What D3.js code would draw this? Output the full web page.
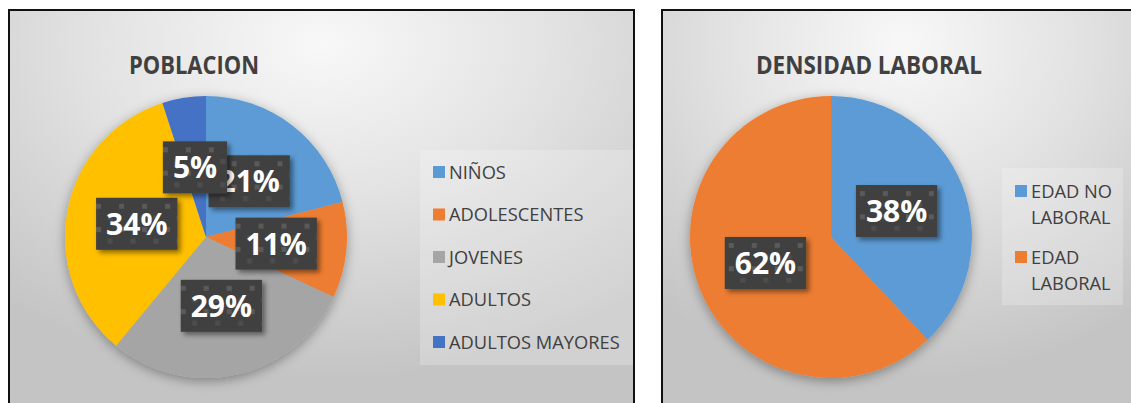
<!DOCTYPE html>
<html>
<head>
<meta charset="utf-8">
<script src="https://cdn.jsdelivr.net/npm/d3@7/dist/d3.min.js"></script>
<style>
  body { margin: 0; background: #fff; }
  svg { display: block; }
</style>
</head>
<body>
<div id="chart"></div>
<script>
// Datos de los dos gráficos
const poblacionTitulo = "POBLACION";
const poblacionCategorias = ["NIÑOS", "ADOLESCENTES", "JOVENES", "ADULTOS", "ADULTOS MAYORES"];
const poblacionValores = [21, 11, 29, 34, 5];
const poblacionColores = ["#5B9BD5", "#ED7D31", "#A5A5A5", "#FFC000", "#4472C4"];

const densidadTitulo = "DENSIDAD LABORAL";
const densidadCategorias = ["EDAD NO LABORAL", "EDAD LABORAL"];
const densidadValores = [38, 62];
const densidadColores = ["#5B9BD5", "#ED7D31"];

(() => {
    const width = 1131, height = 403;

    const svg = d3.select("#chart").append("svg")
        .attr("width", width)
        .attr("height", height);

    const defs = svg.append("defs");

    // Fondo degradado tipo Excel
    const grad = defs.append("radialGradient")
        .attr("id", "fondo")
        .attr("cx", 0.5).attr("cy", 0.08).attr("r", 0.8)
        .attr("fx", 0.5).attr("fy", 0.08);
    grad.append("stop").attr("offset", "0%").attr("stop-color", "#f8f8f8");
    grad.append("stop").attr("offset", "45%").attr("stop-color", "#e3e3e3");
    grad.append("stop").attr("offset", "100%").attr("stop-color", "#c4c4c4");

    // Sombra del pastel
    defs.append("filter").attr("id", "sombraPie")
        .attr("x", "-30%").attr("y", "-30%").attr("width", "160%").attr("height", "160%")
        .append("feDropShadow")
        .attr("dx", 0).attr("dy", 3).attr("stdDeviation", 6)
        .attr("flood-color", "#000").attr("flood-opacity", 0.35);

    // Sombra de las etiquetas
    defs.append("filter").attr("id", "sombraEtiqueta")
        .attr("x", "-20%").attr("y", "-20%").attr("width", "150%").attr("height", "150%")
        .append("feDropShadow")
        .attr("dx", 3).attr("dy", 3).attr("stdDeviation", 2.5)
        .attr("flood-color", "#000").attr("flood-opacity", 0.45);

    let patronId = 0;

    function dibujarPanel(cfg) {
        const g = svg.append("g");

        // Marco del gráfico
        g.append("rect")
            .attr("x", cfg.x).attr("y", cfg.y)
            .attr("width", cfg.w).attr("height", cfg.h)
            .attr("fill", "url(#fondo)")
            .attr("stroke", "#111")
            .attr("stroke-width", 2);

        // Título
        g.append("text")
            .attr("x", cfg.tituloX)
            .attr("y", 74)
            .attr("textLength", cfg.tituloW)
            .attr("lengthAdjust", "spacingAndGlyphs")
            .style("font-family", "'Open Sans', sans-serif")
            .style("font-weight", "bold")
            .style("font-size", "25px")
            .style("fill", "#404040")
            .text(cfg.titulo);

        const pie = d3.pie().sort(null).value(d => d);
        const arcos = pie(cfg.valores);
        const arc = d3.arc().innerRadius(0).outerRadius(cfg.r);
        const arcEtiqueta = d3.arc().innerRadius(cfg.r * 0.5).outerRadius(cfg.r * 0.5);
        const color = d3.scaleOrdinal().domain(cfg.categorias).range(cfg.colores);

        const pieG = g.append("g")
            .attr("transform", `translate(${cfg.cx},${cfg.cy})`);

        pieG.append("g")
            .attr("filter", "url(#sombraPie)")
            .selectAll("path")
            .data(arcos)
            .enter()
            .append("path")
            .attr("d", arc)
            .attr("fill", (d, i) => color(cfg.categorias[i]));

        // Etiquetas de porcentaje
        arcos.forEach(d => {
            const [lx, ly] = arcEtiqueta.centroid(d);
            const lg = pieG.append("g");
            const txt = lg.append("text")
                .attr("x", lx)
                .attr("y", ly + 11)
                .attr("text-anchor", "middle")
                .style("font-family", "'Open Sans', sans-serif")
                .style("font-weight", "bold")
                .style("font-size", "30px")
                .style("fill", "#fff")
                .text(`${d.data}%`);
            const tw = txt.node().getComputedTextLength();
            const bw = tw + 20, bh = 52;
            const bx = lx - bw / 2, by = ly - bh / 2;

            // patrón de cuadritos alineado con la caja
            const id = `cuadros${patronId++}`;
            const pat = defs.append("pattern")
                .attr("id", id)
                .attr("patternUnits", "userSpaceOnUse")
                .attr("x", cfg.cx + bx + 1).attr("y", cfg.cy + by + 2)
                .attr("width", 23).attr("height", 23.3);
            pat.append("rect").attr("width", 23).attr("height", 23.3).attr("fill", "#404040");
            pat.append("rect").attr("x", 0).attr("y", 0).attr("width", 5).attr("height", 5).attr("fill", "#5a5a5a");
            pat.append("rect").attr("x", 11.5).attr("y", 11.6).attr("width", 5).attr("height", 5).attr("fill", "#4d4d4d");

            lg.insert("rect", "text")
                .attr("x", bx).attr("y", by)
                .attr("width", bw).attr("height", bh)
                .attr("fill", `url(#${id})`)
                .attr("filter", "url(#sombraEtiqueta)");
        });

        // Leyenda
        g.append("rect")
            .attr("x", cfg.leyenda.x).attr("y", cfg.leyenda.y)
            .attr("width", cfg.leyenda.w).attr("height", cfg.leyenda.h)
            .attr("fill", "#fff").attr("fill-opacity", 0.22);

        cfg.categorias.forEach((c, i) => {
            const yy = cfg.leyenda.y0 + i * cfg.leyenda.paso;
            g.append("rect")
                .attr("x", cfg.leyenda.x + 13).attr("y", yy - 6)
                .attr("width", 12).attr("height", 12)
                .attr("fill", color(c));
            const lineas = cfg.partir ? [c.slice(0, c.lastIndexOf(" ")), c.slice(c.lastIndexOf(" ") + 1)] : [c];
            lineas.forEach((l, j) => {
                g.append("text")
                    .attr("x", cfg.leyenda.x + 29)
                    .attr("y", yy + 6.5 + j * 26)
                    .style("font-family", "'Open Sans', sans-serif")
                    .style("font-size", "18.3px")
                    .style("fill", "#404040")
                    .text(l);
            });
        });
    }

    dibujarPanel({
        x: 9, y: 10, w: 625, h: 420,
        titulo: poblacionTitulo, tituloX: 129, tituloW: 130,
        categorias: poblacionCategorias, valores: poblacionValores, colores: poblacionColores,
        cx: 206, cy: 237, r: 141,
        leyenda: { x: 420, y: 150, w: 213, h: 215, y0: 172, paso: 42.5 },
        partir: false
    });

    dibujarPanel({
        x: 662, y: 10, w: 480, h: 420,
        titulo: densidadTitulo, tituloX: 756, tituloW: 226,
        categorias: densidadCategorias, valores: densidadValores, colores: densidadColores,
        cx: 831, cy: 237, r: 141,
        leyenda: { x: 1002, y: 168, w: 121, h: 137, y0: 191, paso: 66 },
        partir: true
    });
})();
</script>
</body>
</html>
